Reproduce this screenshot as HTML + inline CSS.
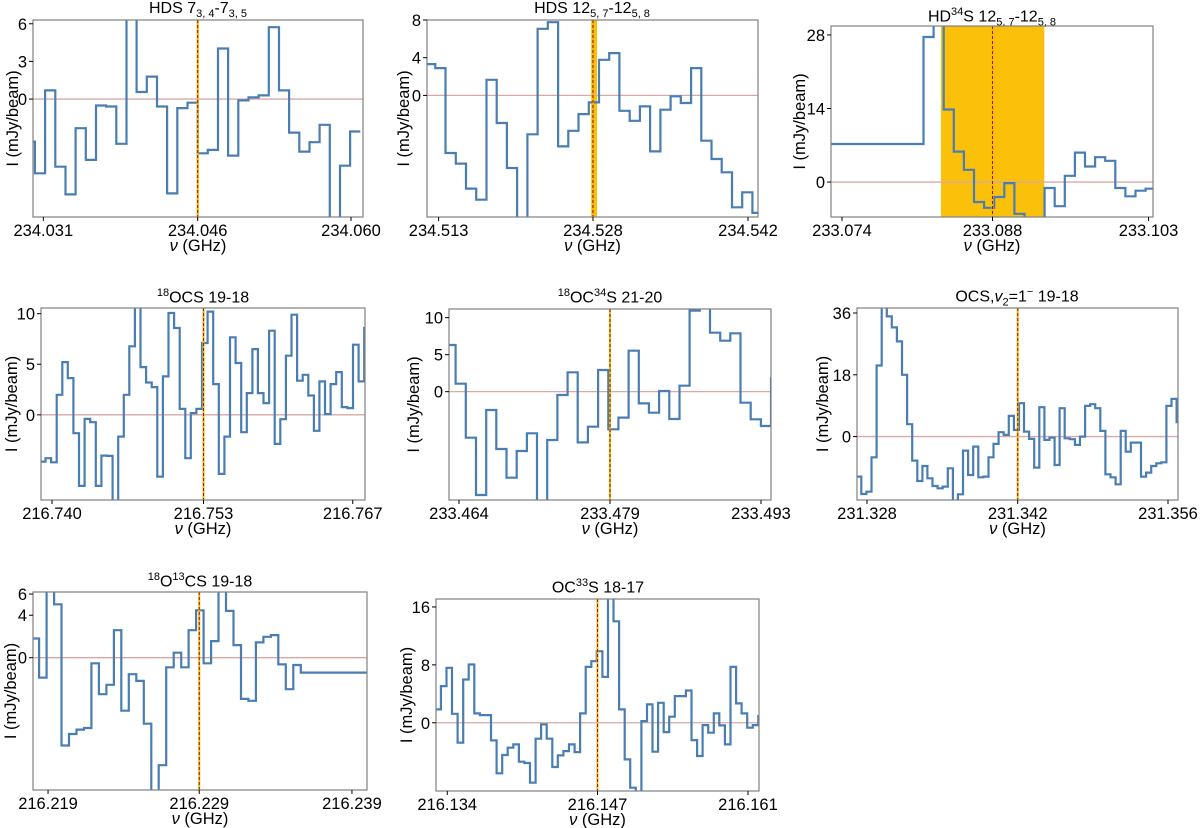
<!DOCTYPE html>
<html><head><meta charset="utf-8">
<style>
body{margin:0;background:#fff;width:1200px;height:828px;overflow:hidden;font-family:"Liberation Sans","DejaVu Sans",sans-serif;}
#wrap{position:relative;width:1200px;height:828px;}
.title{position:absolute;font-size:16px;color:#000;white-space:nowrap;transform:translateX(-50%);line-height:17px;}
.title sub,.title sup{font-size:11px;}
svg{position:absolute;left:0;top:0;}
</style></head>
<body>
<div id="wrap">
<div class="title" style="left:198px;top:0px">HDS 7<sub>3, 4</sub>-7<sub>3, 5</sub></div>
<div class="title" style="left:592px;top:0px">HDS 12<sub>5, 7</sub>-12<sub>5, 8</sub></div>
<div class="title" style="left:992px;top:4px">HD<sup>34</sup>S 12<sub>5, 7</sub>-12<sub>5, 8</sub></div>
<div class="title" style="left:203px;top:285px"><sup>18</sup>OCS 19-18</div>
<div class="title" style="left:610px;top:285px"><sup>18</sup>OC<sup>34</sup>S 21-20</div>
<div class="title" style="left:1017px;top:284px">OCS,<i>v</i><sub>2</sub>=1<sup>−</sup> 19-18</div>
<div class="title" style="left:200px;top:569px"><sup>18</sup>O<sup>13</sup>CS 19-18</div>
<div class="title" style="left:598px;top:575px">OC<sup>33</sup>S 18-17</div>
<svg id="chart" width="1200" height="828" xmlns="http://www.w3.org/2000/svg"></svg>
</div>
<script>
// ---- data arrays ----
const p1Values=[-3.39,-5.92,0.69,-5.39,-7.6,-2.32,-4.85,-0.51,-0.59,-3.57,7,0.56,1.79,-0.59,-7.52,-0.72,-0.29,-4.32,-4.05,4.03,-4.51,-0.11,0.13,0.29,5.73,0.69,-2.67,-4.19,-3.44,-2.05,-10,-5.31,-2.59];
const p2Values=[3.32,2.9,-6.11,-7.24,-9.89,-11.06,1.66,-2.93,-7.7,-14,-4.13,7.07,7.77,-5.41,-3.75,-1.98,-0.74,3.78,4.49,-1.63,-2.69,-1.17,-5.94,-1.52,-0.1,-0.81,2.9,-4.81,-6.75,-8.16,-11.87,-10.28,-12.47];
const p3Values=[7.25,7.25,7.25,7.25,7.25,7.25,7.25,7.25,7.25,7.25,27.6,31,13.8,5.8,2.33,-3.8,-4.9,-2.84,-0.19,-6.05,-8,-8,-1.13,-4.6,1.2,5.6,2.96,4.73,4.04,-1.13,-2.71,-1.64,-1.26];
const p4Values=[-4.62,-4.29,-4.69,1.98,5.21,3.63,-1.82,-7.03,-0.4,-0.73,-7.03,-4.03,-4.06,-9.5,-2.15,1.98,6.77,11,4.72,3.2,2.74,-6.11,3.8,10.07,8.58,0.59,-4.29,0.17,0.59,7.1,10.2,3.04,-5.84,-2.15,7.66,5.12,-1.72,2.15,6.5,2.15,1.16,8.32,-2.87,-0.43,5.84,9.9,3.37,3.96,1.91,-1.58,3.3,0.07,3.04,4.22,0.76,0.66,6.93,3.3,8.58];
const p5Values=[6.31,1.08,-6.22,-13.96,-2.48,-7.75,-11.62,-8.02,-5.63,-15.5,-6.53,-0.45,2.61,-6.85,-4.73,2.93,-5.09,-3.51,5.54,-1.58,-2.84,0.09,-3.69,0.81,10.95,11.5,7.97,6.89,7.88,-1.49,-3.74,-4.64,1.8];
const p6Values=[-11.67,-16.73,-16.05,-6.03,20.72,40,35.02,31.81,27.72,18.0,3.6,-7.0,-12.94,-8.56,-12.16,-14.4,-15.08,-14.59,-9.24,-20,-16.83,-4.09,-11.19,-2.92,-11.87,-11.67,-6.03,-2.14,1.26,0.49,6.03,1.95,9.73,1.46,-0.68,-9.05,8.56,-0.97,-0.29,-8.27,8.27,-0.49,-0.78,-2.43,0,8.95,9.44,8.27,1.65,-10.99,-11.87,-13.91,1.65,-4.38,-1.75,-1.75,-11.67,-10.51,-8.56,-7.78,-7.49,8.95,10.99,4.18];
const p7Values=[1.81,-1.88,7,5.03,-8.28,-7.19,-6.78,-6.63,-0.53,-3.44,-2.56,2.59,-5,-1.56,-2.19,-6.22,-13,-10.13,-0.91,0.47,-0.91,2.59,4.47,-0.53,1.56,7,4.41,1.19,-3.88,-4.06,1.44,1.97,2.13,-0.63,-2.97,-0.69,-1.41,-1.41,-1.41,-1.41,-1.41,-1.41,-1.41,-1.41,-1.41,-1.41];
const p8Values=[1.84,5.06,7.59,1.24,-2.76,5.98,8.05,1.29,1.06,1.06,-2.44,-6.99,-4.46,-3.45,-2.99,-5.38,-5.56,-8.28,-2.21,-0.23,-2.21,-6.11,-4.51,-3.91,-2.99,-4.05,1.29,7.72,8.51,9.89,6.34,19,14.02,1.84,-5.06,-8.97,-11,0.23,2.53,-4.0,2.76,-1.29,0.83,3.68,3.68,4.46,-2.39,-4.6,-0.32,-1.38,1.29,-0.37,-2.99,7.72,2.67,1.29,-0.69,-0.32,0.92,-3.22];
const p1XTicks=[234.031,234.04565,234.0602]; const p1XLabels=["234.031","234.046","234.060"];
const p2XTicks=[234.513,234.52747,234.542]; const p2XLabels=["234.513","234.528","234.542"];
const p3XTicks=[233.074,233.08824,233.103]; const p3XLabels=["233.074","233.088","233.103"];
const p4XTicks=[216.740,216.7536,216.767]; const p4XLabels=["216.740","216.753","216.767"];
const p5XTicks=[233.464,233.4785,233.493]; const p5XLabels=["233.464","233.479","233.493"];
const p6XTicks=[231.328,231.34202,231.356]; const p6XLabels=["231.328","231.342","231.356"];
const p7XTicks=[216.219,216.22895,216.239]; const p7XLabels=["216.219","216.229","216.239"];
const p8XTicks=[216.134,216.14749,216.161]; const p8XLabels=["216.134","216.147","216.161"];
const p1YTicks=[6,3,0],p2YTicks=[8,4,0],p3YTicks=[28,14,0],p4YTicks=[10,5,0],p5YTicks=[10,5,0],p6YTicks=[36,18,0],p7YTicks=[6,4,0],p8YTicks=[16,8,0];
const lineFreqs=[234.04565,234.52747,233.08824,216.7536,233.4785,231.34202,216.22895,216.14749];
const bandLo=[234.04555,234.5273,233.08336,216.7536,233.4785,231.34202,216.22895,216.14749];
const bandHi=[234.04575,234.52785,233.09314,216.7536,233.4785,231.34202,216.22895,216.14749];

const panels=[
 {name:'hds-7',box:[33,20,363,217],xd:[234.03002,234.06134],yd:[-9.4,6.3],f0:234.02924,df:0.000965,v:p1Values,xt:p1XTicks,xl:p1XLabels,yt:p1YTicks,yl:12},
 {name:'hds-12',box:[427,20,758,217],xd:[234.51191,234.54294],yd:[-12.9,8],f0:234.51173,df:0.000959,v:p2Values,xt:p2XTicks,xl:p2XLabels,yt:p2YTicks,yl:403},
 {name:'hd34s',box:[831,26,1153,217],xd:[233.07296,233.10342],yd:[-6.65,29.7],f0:233.07216,df:0.000955,v:p3Values,xt:p3XTicks,xl:p3XLabels,yt:p3YTicks,yl:799},
 {name:'18ocs',box:[41,308,365,500],xd:[216.73901,216.7681],yd:[-8.42,10.56],f0:216.73891,df:0.000502,v:p4Values,xt:p4XTicks,xl:p4XLabels,yt:p4YTicks,yl:11},
 {name:'18oc34s',box:[449,309,771,500],xd:[233.46304,233.49396],yd:[-14.64,11.17],f0:233.4627,df:0.000977,v:p5Values,xt:p5XTicks,xl:p5XLabels,yt:p5YTicks,yl:413},
 {name:'ocs-v2',box:[857,308,1178,500],xd:[231.32707,231.35693],yd:[-18.48,37.46],f0:231.327,df:0.000473,v:p6Values,xt:p6XTicks,xl:p6XLabels,yt:p6YTicks,yl:822},
 {name:'18o13cs',box:[33,592,367,790],xd:[216.21801,216.23999],yd:[-12.47,6.19],f0:216.21792,df:0.000492,v:p7Values,xt:p7XTicks,xl:p7XLabels,yt:p7YTicks,yl:10},
 {name:'oc33s',box:[436,599,759,791],xd:[216.13299,216.16199],yd:[-9.43,17.1],f0:216.13293,df:0.0005,v:p8Values,xt:p8XTicks,xl:p8XLabels,yt:p8YTicks,yl:406}
];
const NS='http://www.w3.org/2000/svg';
const svg=document.getElementById('chart');
const FS=16.5;
function mk(tag,attrs,parent){const e=document.createElementNS(NS,tag);for(const k in attrs)e.setAttribute(k,attrs[k]);(parent||svg).appendChild(e);return e;}
panels.forEach((p,pi)=>{
 const [L,T,R,B]=p.box;
 const sx=f=>L+(f-p.xd[0])/(p.xd[1]-p.xd[0])*(R-L);
 const sy=v=>B-(v-p.yd[0])/(p.yd[1]-p.yd[0])*(B-T);
 const g=mk('g',{});
 
 
 const cp=mk('clipPath',{id:'cp'+pi},g);
 mk('rect',{x:L,y:T,width:R-L,height:B-T},cp);
 const inner=mk('g',{'clip-path':'url(#cp'+pi+')'},g);
 const band=mk('rect',{x:sx(bandLo[pi]),y:T,width:Math.max(0,sx(bandHi[pi])-sx(bandLo[pi])),height:B-T,fill:'#fbc00a'},inner);
 
 
 const z=mk('line',{x1:L,x2:R,y1:sy(0),y2:sy(0),stroke:'#d8a9a6','stroke-width':1.3},inner);
 
 
 let d='';
 p.v.forEach((v,i)=>{const x0=sx(p.f0+i*p.df),x1=sx(p.f0+(i+1)*p.df),y=sy(v);d+=(i===0?'M':'L')+x0.toFixed(1)+','+y.toFixed(1)+'L'+x1.toFixed(1)+','+y.toFixed(1);});
 const path=mk('path',{d:d,fill:'none',stroke:'#4a7eb3','stroke-width':2.2,'stroke-linejoin':'miter'},inner);
 
 
 const lx=sx(lineFreqs[pi]);
 mk('line',{x1:lx,x2:lx,y1:T,y2:B,stroke:'#f5b800','stroke-width':2},inner);
 const rl=mk('line',{x1:lx,x2:lx,y1:T,y2:B,stroke:'#8b1a1a','stroke-width':1,'stroke-dasharray':'3,2'},inner);
 
 
 const fr=mk('rect',{x:L,y:T,width:R-L,height:B-T,fill:'none',stroke:'#808080','stroke-width':1.2},g);
 
 
 p.xt.forEach((t,i)=>{const x=sx(t);
  mk('line',{x1:x,x2:x,y1:B,y2:B+4,stroke:'#000','stroke-width':1},g);
  const tx=mk('text',{x:x,y:B+19,'text-anchor':'middle','font-size':FS,fill:'#000'},g);tx.textContent=p.xl[i];
  
  });
 p.yt.forEach(t=>{const y=sy(t);
  mk('line',{x1:L-4,x2:L,y1:y,y2:y,stroke:'#000','stroke-width':1},g);
  const tx=mk('text',{x:L-6,y:y+6,'text-anchor':'end','font-size':FS,fill:'#000'},g);tx.textContent=String(t);
  
  });
 const xl=mk('text',{x:(L+R)/2,y:B+34,'text-anchor':'middle','font-size':FS,fill:'#000'},g);
 xl.innerHTML='<tspan font-style="italic">ν</tspan> (GHz)';
 
 
 const cy=(T+B)/2;
 const yl=mk('text',{x:p.yl,y:cy,'text-anchor':'middle','font-size':FS,fill:'#000',transform:'rotate(-90 '+p.yl+' '+cy+') translate(0,6)'},g);
 yl.textContent='I (mJy/beam)';
 
 
});
</script>
</body></html>
